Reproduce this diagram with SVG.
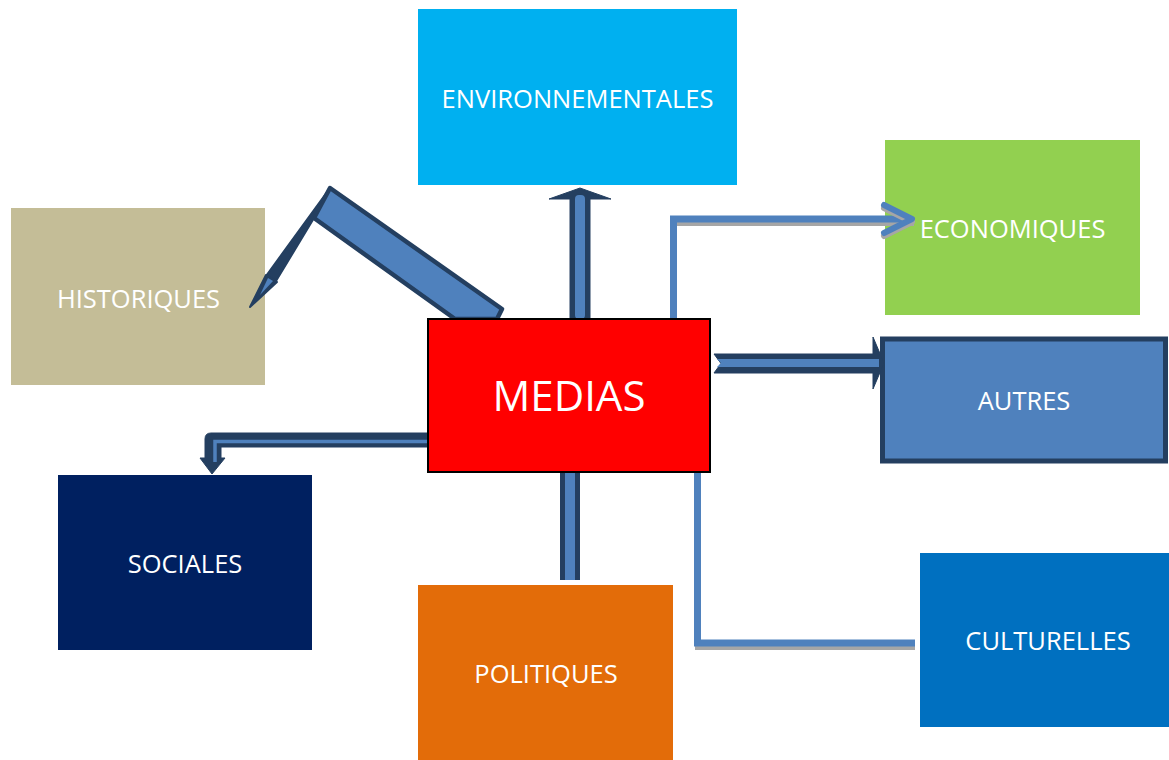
<svg xmlns="http://www.w3.org/2000/svg" width="1169" height="760" viewBox="0 0 1169 760">
<style>
.lbl{font-family:"Open Sans","Liberation Sans",sans-serif;font-size:25.5px;fill:#FFFFFF;text-anchor:middle}
.dk{fill:#243F60;stroke:#243F60;stroke-linejoin:round}
.lt{fill:#4F81BD}
.ln{fill:none;stroke:#4F81BD;stroke-width:7;stroke-linejoin:miter}
.sh{fill:none;stroke:#A6A6A6;stroke-width:6}
</style>
<rect width="1169" height="760" fill="#FFFFFF"/>
<g id="node-environnementales">
<rect x="418" y="9" width="319" height="176" fill="#00B0F0"/>
<text class="lbl" x="577.5" y="108">ENVIRONNEMENTALES</text>
</g>
<g id="node-historiques">
<rect x="11" y="208" width="254" height="177" fill="#C4BD97"/>
<text class="lbl" x="138.5" y="308">HISTORIQUES</text>
</g>
<g id="node-economiques">
<rect x="885" y="140" width="255" height="175" fill="#92D050"/>
<text class="lbl" x="1012.5" y="238">ECONOMIQUES</text>
</g>
<g id="node-autres">
<rect x="882.5" y="339" width="283" height="122" fill="#4F81BD" stroke="#243F60" stroke-width="5"/>
<text class="lbl" x="1024" y="410">AUTRES</text>
</g>
<g id="node-sociales">
<rect x="58" y="475" width="254" height="175" fill="#002060"/>
<text class="lbl" x="185" y="573">SOCIALES</text>
</g>
<g id="node-politiques">
<rect x="418" y="585" width="255" height="175" fill="#E36C09"/>
<text class="lbl" x="546" y="683">POLITIQUES</text>
</g>
<g id="node-culturelles">
<rect x="920" y="553" width="249" height="174" fill="#0070C0"/>
<text class="lbl" x="1048" y="650">CULTURELLES</text>
</g>
<g id="connectors">
<!-- to HISTORIQUES -->
<polygon points="330,188 502,309 497,319 455,319 314,218" fill="#4F81BD" stroke="#243F60" stroke-width="4.5" stroke-linejoin="round"/>
<polygon class="dk" stroke-width="2" points="330,188 314,218 276,281 266,276"/>
<polygon class="dk" stroke-width="2" points="266,275 277,282 250,307"/>
<polygon class="lt" points="268,278 273,281 260,295"/>
<!-- to ENVIRONNEMENTALES -->
<polygon class="dk" stroke-width="1" points="570,319 570,199 549,199 580,188 611,199 590,199 590,319"/>
<rect class="lt" x="575" y="195" width="10" height="124" rx="4"/>
<!-- to ECONOMIQUES -->
<path class="sh" d="M674,319 V223 H914"/>
<path class="ln" d="M673.5,319 V219 H910"/>
<path d="M884,205 L912,219 L884,233" fill="none" stroke="#A6A6A6" stroke-width="6" stroke-linecap="round" stroke-linejoin="round" transform="translate(0,3)"/>
<path d="M884,205 L912,219 L884,233" fill="none" stroke="#4F81BD" stroke-width="6" stroke-linecap="round" stroke-linejoin="round"/>
<!-- to AUTRES -->
<polygon class="dk" stroke-width="1" points="714,354 873,354 873,337 884,363 873,389 873,373 714,373 721,363.5"/>
<polygon class="lt" points="717,359 879,359 879,367 717,367 721,363"/>
<!-- to SOCIALES -->
<path class="dk" stroke-width="1" d="M428,433 H211 Q205,433 205,439 V458 H200 L212,474 L225,458 H221 V447 H428 Z"/>
<path d="M428,441.5 H215 V462" fill="none" stroke="#4F81BD" stroke-width="3.5"/>
<!-- to POLITIQUES -->
<rect class="dk" stroke-width="0" x="560" y="472" width="20" height="108"/>
<rect class="lt" x="565" y="472" width="10" height="108"/>
<!-- to CULTURELLES -->
<path class="sh" d="M698,472 V647 H915"/>
<path class="ln" d="M697.5,472 V643 H915" stroke-width="8"/>
</g>
<g id="node-medias">
<rect x="428" y="319" width="282" height="153" fill="#FF0000" stroke="#000000" stroke-width="2"/>
<text class="lbl" x="569" y="411" style="font-size:42px">MEDIAS</text>
</g>
</svg>
